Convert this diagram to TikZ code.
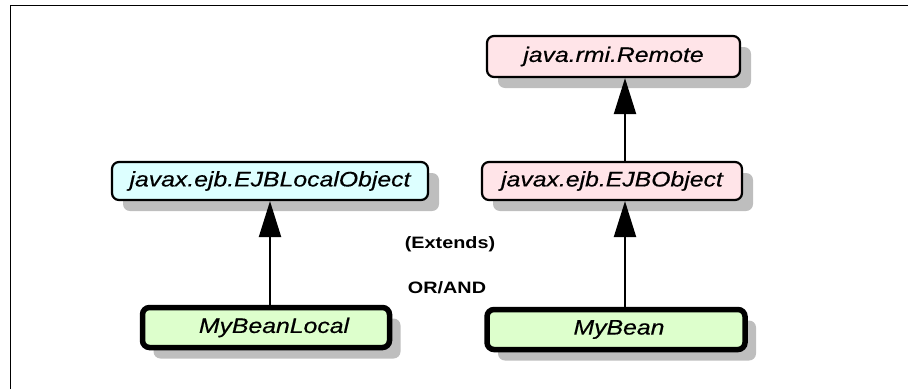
\documentclass[tikz,border=0pt]{standalone}
\usepackage{fontspec}
\setmainfont{Liberation Sans}
\newfontfamily\nodefont[FakeStretch=1.18,FakeBold=0.4]{Liberation Sans}
\newfontfamily\lblfont[FakeStretch=1.2]{Liberation Sans}
\usetikzlibrary{arrows.meta,shadows}
\definecolor{pinkfill}{HTML}{FFE4E8}
\definecolor{cyanfill}{HTML}{DDFFFF}
\definecolor{greenfill}{HTML}{DDFFCC}
\definecolor{shadowgray}{HTML}{BEBEBE}
\tikzset{
  box/.style={draw=black, line width=2.2pt, rounded corners=7pt, inner sep=0pt,
    font=\nodefont\itshape\fontsize{21}{24}\selectfont,
    drop shadow={shadow xshift=11pt, shadow yshift=-11pt, fill=shadowgray, opacity=1}},
  beanbox/.style={box, line width=5.5pt, fill=greenfill},
  arr/.style={line width=2.2pt, -{Triangle[length=36pt,width=22pt]}},
  lbl/.style={font=\lblfont\bfseries\fontsize{16.5}{19}\selectfont, inner sep=0pt}
}
\begin{document}
\begin{tikzpicture}[x=1pt,y=-1pt]
\useasboundingbox (0,0) rectangle (908,389);
% frame
\draw[line width=1.5pt] (10.5,389) -- (10.5,5.5) -- (908,5.5);
% nodes
\node[box, fill=pinkfill, minimum width=253pt, minimum height=41pt] (rem) at (613.5,56.5) {java.rmi.Remote};
\node[box, fill=pinkfill, minimum width=260pt, minimum height=38pt] (ejbo) at (612,181) {javax.ejb.EJBObject};
\node[box, fill=cyanfill, minimum width=316pt, minimum height=38pt] (elo) at (270,181) {javax.ejb.EJBLocalObject};
\node[beanbox, minimum width=247pt, minimum height=40pt] (mbl) at (266,327.5) {\hspace*{16pt}MyBeanLocal};
\node[beanbox, minimum width=258pt, minimum height=40pt] (mb) at (616,329.5) {\hspace*{6pt}MyBean};
% labels
\node[lbl] (ext) at (450,244) {(Extends)};
\node[lbl] (orand) at (447,288) {OR/AND};
% arrows
\draw[arr] (mbl.north -| elo.south) -- (elo.south);
\draw[arr] ([xshift=9pt]mb.north) -- ([xshift=13pt]ejbo.south);
\draw[arr] ([xshift=13pt]ejbo.north) -- ([xshift=11.5pt]rem.south);
\end{tikzpicture}
\end{document}
